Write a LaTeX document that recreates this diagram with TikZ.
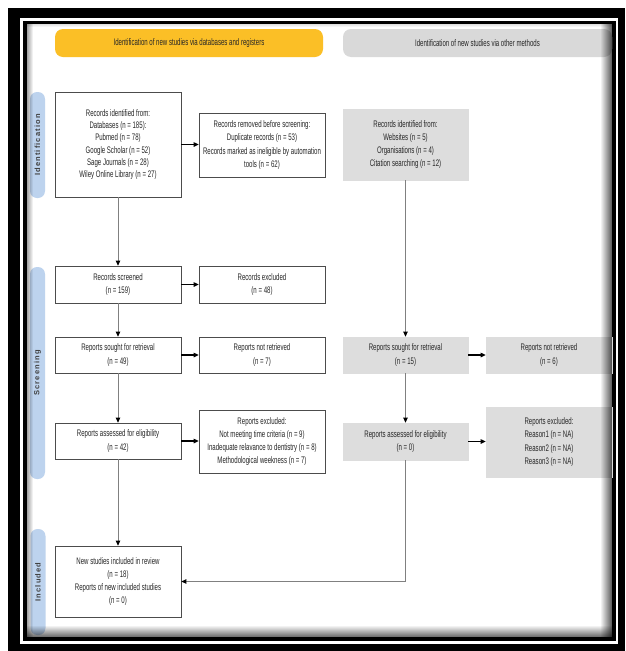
\documentclass[tikz,border=0pt]{standalone}
\usepackage{fontspec}
\newfontfamily\nf[FakeStretch=0.64]{Liberation Sans}
\newfontfamily\sidef[LetterSpace=15]{Liberation Sans}
\usetikzlibrary{arrows.meta}
\definecolor{hdryellow}{RGB}{251,191,38}
\definecolor{hdrgrey}{RGB}{217,217,217}
\definecolor{boxgrey}{RGB}{221,221,221}
\definecolor{barblue}{RGB}{189,211,238}
\tikzset{
  box/.style={draw=black!70, line width=0.7pt, fill=white, align=center, inner sep=1pt,
    text=black!85, font=\nf\fontsize{9.5}{13.3}\selectfont, minimum width=126pt},
  gbox/.style={box, draw=boxgrey, fill=boxgrey},
  hdr/.style={rounded corners=8pt, minimum height=28pt, align=center, inner sep=0pt,
    text=black!85, font=\nf\fontsize{9.5}{12}\selectfont},
  sidebar/.style={fill=barblue, rounded corners=7pt, rotate=90, minimum height=15pt,
    inner sep=0pt, text=black!75, font=\sidef\bfseries\fontsize{7.5}{9}\selectfont},
  varrow/.style={draw=black!50, line width=0.8pt, -{Triangle[length=5pt,width=4.5pt,color=black]}},
  harrow/.style={draw=black, line width=1.1pt, -{Triangle[length=5pt,width=4.5pt,color=black]}},
}
\begin{document}
\begin{tikzpicture}[x=1pt,y=-1pt]
\useasboundingbox (0,0) rectangle (625,651);
% frame
\fill[black] (8,8) rectangle (625,651);
\fill[white] (20,18) rectangle (618,644);
\fill[black] (23,21) rectangle (616,641);
\fill[white] (27,24) rectangle (612,637);
% headers
\node[hdr, fill=hdryellow, minimum width=268pt] (hy) at (189,43) {Identification of new studies via databases and registers};
\node[hdr, fill=hdrgrey, minimum width=269pt] (hg) at (477.5,43) {Identification of new studies via other methods};
% side bars
\node[sidebar, minimum width=106pt] (sI) at (37.5,145) {Identification};
\node[sidebar, minimum width=212pt] (sS) at (37.5,373) {Screening};
\node[sidebar, minimum width=106pt] (sN) at (38,582) {Included};
% boxes
\node[box, minimum height=105pt, font=\nf\fontsize{9.5}{12.2}\selectfont] (A) at (118,144.5) {Records identified from:\\Databases (n = 185):\\Pubmed (n = 78)\\Google Scholar (n = 52)\\Sage Journals (n = 28)\\Wiley Online Library (n = 27)};
\node[box, minimum height=64pt] (B) at (262,145) {Records removed before screening:\\Duplicate records (n = 53)\\Records marked as ineligible by automation\\tools (n = 62)};
\node[gbox, minimum width=125pt, minimum height=71pt] (C) at (405.5,144.5) {Records identified from:\\Websites (n = 5)\\Organisations (n = 4)\\Citation searching (n = 12)};
\node[box, minimum height=37pt] (D) at (118,284.5) {Records screened\\(n = 159)};
\node[box, minimum height=37pt] (E) at (262,284.5) {Records excluded\\(n = 48)};
\node[box, minimum height=36pt] (F) at (118,355) {Reports sought for retrieval\\(n = 49)};
\node[box, minimum height=36pt] (G) at (262,355) {Reports not retrieved\\(n = 7)};
\node[gbox, minimum width=125pt, minimum height=36pt] (H) at (405.5,355) {Reports sought for retrieval\\(n = 15)};
\node[gbox, minimum height=36pt] (I) at (549,355) {Reports not retrieved\\(n = 6)};
\node[gbox, minimum width=125pt, minimum height=37pt] (J) at (405.5,441.5) {Reports assessed for eligibility\\(n = 0)};
\node[gbox, minimum height=70pt] (K) at (549,442) {Reports excluded:\\Reason1 (n = NA)\\Reason2 (n = NA)\\Reason3 (n = NA)};
\node[box, minimum height=36pt] (L) at (118,441) {Reports assessed for eligibility\\(n = 42)};
\node[box, minimum height=63pt] (M) at (262,441.5) {Reports excluded:\\Not meeting time criteria (n = 9)\\Inadequate relavance to dentistry (n = 8)\\Methodological weekness (n = 7)};
\node[box, minimum height=71pt] (N) at (118,581.5) {New studies included in review\\(n = 18)\\Reports of new included studies\\(n = 0)};
% connectors
\draw[varrow] (A.south) -- (D.north);
\draw[varrow] (D.south) -- (F.north);
\draw[varrow] (F.south) -- (L.north);
\draw[varrow] (L.south) -- (N.north);
\draw[harrow] (A.east) -- (A.east -| B.west);
\draw[harrow] (D.east) -- (E.west);
\draw[harrow] (F.east) -- (G.west);
\draw[harrow] (L.east) -- (L.east -| M.west);
\draw[varrow] (C.south) -- (H.north);
\draw[varrow] (H.south) -- (J.north);
\draw[harrow] (H.east) -- (I.west);
\draw[harrow] (J.east) -- (J.east -| K.west);
\draw[varrow] (J.south) -- (J.south |- N.east) -- (N.east);
% inner shadows
\foreach \i in {0,...,11} {\fill[black,opacity=0.055*\i] ({600+\i},24) rectangle ({601+\i},637);}
\foreach \i in {0,...,11} {\fill[black,opacity=0.05*\i] (27,{625+\i}) rectangle (612,{626+\i});}
\foreach \i in {0,...,6} {\fill[black,opacity=0.06*(6-\i)] ({27+\i},24) rectangle ({28+\i},637);}
\foreach \i in {0,...,3} {\fill[black,opacity=0.04*(3-\i)] (27,{24+\i}) rectangle (612,{25+\i});}
\end{tikzpicture}
\end{document}
